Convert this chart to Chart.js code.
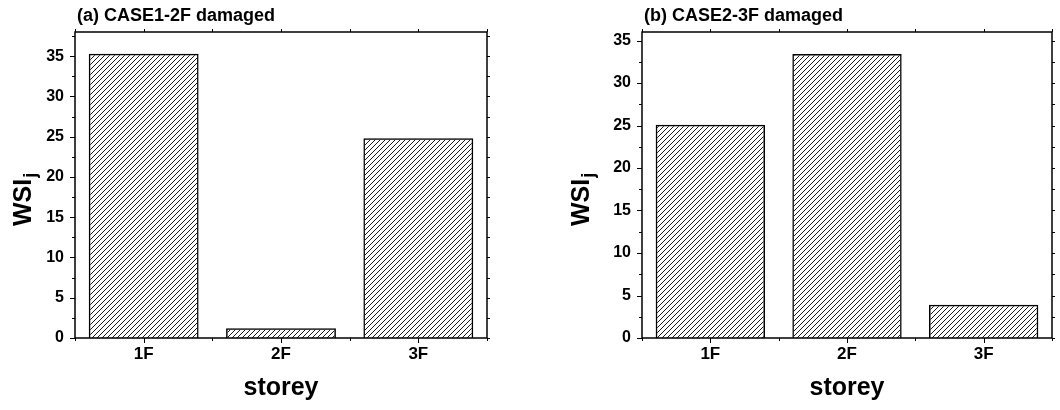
<!DOCTYPE html>
<html lang="en">
<head>
    <meta charset="UTF-8">
    <title>WSI by storey</title>
    <script src="https://cdn.jsdelivr.net/npm/chart.js"></script>
    <style>
        body { margin: 0; background: #fff; }
        .panel { position: absolute; top: 0; width: 530px; height: 410px; }
    </style>
</head>
<body>
    <div class="panel" style="left:0"><canvas id="chartA" width="530" height="410"></canvas></div>
    <div class="panel" style="left:530px"><canvas id="chartB" width="530" height="410"></canvas></div>
    <script>
        // datos
        const storeys = ['1F', '2F', '3F'];
        const case1Wsi = [35.3, 1.2, 24.8];
        const case2Wsi = [25.1, 33.4, 3.9];
        const case1Title = '(a) CASE1-2F damaged';
        const case2Title = '(b) CASE2-3F damaged';

        const FONT = "'Liberation Sans', Arial, sans-serif";

        // relleno rayado "/"
        function hatch(ctx) {
            const c = document.createElement('canvas');
            c.width = 5; c.height = 5;
            const g = c.getContext('2d');
            g.strokeStyle = '#000';
            g.lineWidth = 0.9;
            g.beginPath();
            g.moveTo(0, 5); g.lineTo(5, 0);
            g.moveTo(-1, 1); g.lineTo(1, -1);
            g.moveTo(4, 6); g.lineTo(6, 4);
            g.stroke();
            return ctx.createPattern(c, 'repeat');
        }

        // marco, ticks, titulo y etiqueta WSI_j
        const framePlugin = {
            id: 'frame',
            afterDraw(chart, args, opts) {
                const { ctx, chartArea: a, scales: { x, y } } = chart;
                ctx.save();
                ctx.strokeStyle = '#000';
                ctx.lineWidth = 1.5;
                ctx.strokeRect(a.left, a.top, a.right - a.left, a.bottom - a.top);

                ctx.lineWidth = 1;
                ctx.beginPath();
                for (let v = 0; v <= y.max; v += 2.5) {
                    const py = Math.round(y.getPixelForValue(v)) + 0.5;
                    const len = v % 5 === 0 ? 5 : 3;
                    ctx.moveTo(a.left - len, py); ctx.lineTo(a.left, py);
                    ctx.moveTo(a.right, py); ctx.lineTo(a.right + 3, py);
                }
                for (let i = -0.5; i <= storeys.length - 0.5; i += 0.5) {
                    const px = Math.round(x.getPixelForValue(i)) + 0.5;
                    const len = Number.isInteger(i) ? 5 : 3;
                    ctx.moveTo(px, a.bottom); ctx.lineTo(px, a.bottom + len);
                    ctx.moveTo(px, a.top); ctx.lineTo(px, a.top - 3);
                }
                ctx.stroke();

                ctx.fillStyle = '#000';
                ctx.font = 'bold 18px ' + FONT;
                ctx.textAlign = 'left';
                ctx.textBaseline = 'alphabetic';
                ctx.fillText(opts.title, a.left + 2, 21);

                ctx.translate(opts.labelX, opts.labelY);
                ctx.rotate(-Math.PI / 2);
                ctx.font = 'bold 25px ' + FONT;
                ctx.fillText('WSI', 0, 0);
                const w = ctx.measureText('WSI').width;
                ctx.font = 'bold 18px ' + FONT;
                ctx.fillText('j', w + 1, 5);
                ctx.restore();
            }
        };

        function makeChart(id, values, title, yMax, yAxisWidth, padRight, labelX) {
            const ctx = document.getElementById(id).getContext('2d');
            return new Chart(ctx, {
                type: 'bar',
                data: {
                    labels: storeys,
                    datasets: [{
                        data: values,
                        backgroundColor: hatch(ctx),
                        borderColor: '#000',
                        borderWidth: 1.5,
                        barPercentage: 0.8,
                        categoryPercentage: 1.0
                    }]
                },
                options: {
                    responsive: false,
                    animation: false,
                    layout: { padding: { top: 32, right: padRight, left: 0, bottom: 0 } },
                    scales: {
                        x: {
                            offset: true,
                            grid: { display: false, drawTicks: false },
                            border: { display: false },
                            ticks: { color: '#000', padding: 6, font: { family: FONT, size: 17, weight: 'bold' } },
                            title: {
                                display: true,
                                text: 'storey',
                                color: '#000',
                                font: { family: FONT, size: 25, weight: 'bold' },
                                padding: { top: 0, bottom: 7 }
                            },
                            afterFit(s) { s.height = 72; }
                        },
                        y: {
                            min: 0,
                            max: yMax,
                            grid: { display: false, drawTicks: false },
                            border: { display: false },
                            ticks: {
                                stepSize: 5,
                                includeBounds: false,
                                color: '#000',
                                padding: 11,
                                font: { family: FONT, size: 16, weight: 'bold' }
                            },
                            afterFit(s) { s.width = yAxisWidth; }
                        }
                    },
                    plugins: {
                        legend: { display: false },
                        tooltip: { enabled: false },
                        frame: { title: title, labelX: labelX, labelY: 226 }
                    }
                },
                plugins: [framePlugin]
            });
        }

        makeChart('chartA', case1Wsi, case1Title, 38, 75, 43, 31);
        makeChart('chartB', case2Wsi, case2Title, 36, 112, 8, 59);
    </script>
</body>
</html>
